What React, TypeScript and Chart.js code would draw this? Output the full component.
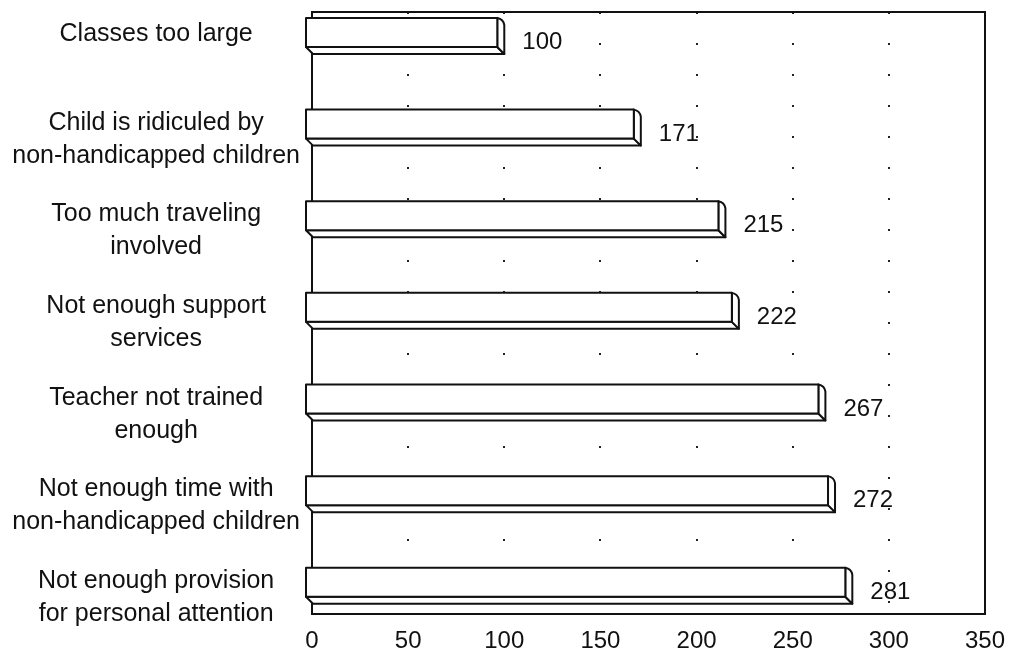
import React, { useEffect, useRef } from "react";
import { Chart, registerables } from "chart.js";

Chart.register(...registerables);

const categories: string[][] = [
  ["Classes too large"],
  ["Child is ridiculed by", "non-handicapped children"],
  ["Too much traveling", "involved"],
  ["Not enough support", "services"],
  ["Teacher not trained", "enough"],
  ["Not enough time with", "non-handicapped children"],
  ["Not enough provision", "for personal attention"],
];
const values: number[] = [100, 171, 215, 222, 267, 272, 281];
const xTicks: number[] = [0, 50, 100, 150, 200, 250, 300, 350];

const FONT = "'Liberation Sans', Arial, Helvetica, sans-serif";
const INK = "#111";
// small visual nudge of the category text relative to the bar (in category units)
const ONE_LINE_NUDGE = -0.06;
const TWO_LINE_NUDGE = 0.09;

const bar3d = {
  id: "bar3d",
  beforeDatasetsDraw(chart: any) {
    const { ctx, chartArea: a } = chart;
    ctx.save();
    ctx.strokeStyle = INK;
    ctx.lineWidth = 2;
    ctx.strokeRect(a.left, a.top, a.right - a.left, a.bottom - a.top);
    ctx.restore();
  },
  afterDatasetsDraw(chart: any) {
    const { ctx } = chart;
    const meta = chart.getDatasetMeta(0);
    const d = 7;
    ctx.save();
    ctx.lineJoin = "round";
    meta.data.forEach((el: any, i: number) => {
      const { x, y, base, height } = el.getProps(["x", "y", "base", "height"], true);
      const left = base;
      const right = x;
      const top = y - height / 2;
      const bottom = y + height / 2;
      ctx.fillStyle = "#fff";
      ctx.strokeStyle = INK;
      ctx.lineWidth = 2;
      // bottom face
      ctx.beginPath();
      ctx.moveTo(left - d, bottom - d);
      ctx.lineTo(left, bottom);
      ctx.lineTo(right, bottom);
      ctx.lineTo(right - d, bottom - d);
      ctx.closePath();
      ctx.fill();
      ctx.stroke();
      // right face
      ctx.beginPath();
      ctx.moveTo(right - d, top - d);
      ctx.quadraticCurveTo(right - 1, top - d + 1, right, top);
      ctx.lineTo(right, bottom);
      ctx.lineTo(right - d, bottom - d);
      ctx.closePath();
      ctx.fill();
      ctx.stroke();
      // front face
      ctx.beginPath();
      ctx.rect(left - d, top - d, right - left, bottom - top);
      ctx.fill();
      ctx.stroke();
      // value label
      ctx.fillStyle = INK;
      ctx.font = `24px ${FONT}`;
      ctx.textAlign = "left";
      ctx.textBaseline = "middle";
      ctx.fillText(String(values[i]), right + 18, y + 3);
    });
    ctx.restore();
  },
};

const zeroPad = (s: any) => {
  s.paddingTop = 0;
  s.paddingBottom = 0;
  s.paddingLeft = 0;
  s.paddingRight = 0;
};

export default function App() {
  const ref = useRef<HTMLCanvasElement | null>(null);
  useEffect(() => {
    if (!ref.current) return;
    Chart.defaults.font.family = FONT;
    const chart = new Chart(ref.current, {
      type: "bar",
      data: {
        datasets: [
          {
            data: values.map((v, i) => ({ x: v, y: i })),
            backgroundColor: "rgba(0,0,0,0)",
            borderWidth: 0,
            barThickness: 29,
          },
        ],
      },
      options: {
        indexAxis: "y",
        animation: false,
        responsive: true,
        maintainAspectRatio: false,
        layout: { padding: { top: 12, right: 25, left: 0, bottom: 0 } },
        plugins: { legend: { display: false }, tooltip: { enabled: false } },
        scales: {
          x: {
            type: "linear",
            min: 0,
            max: 350,
            offset: false,
            afterBuildTicks: (s: any) => {
              s.ticks = xTicks.map((v) => ({ value: v }));
            },
            afterFit: (s: any) => {
              s.height = 43;
              zeroPad(s);
            },
            grid: {
              color: (c: any) =>
                c.tick && (c.tick.value === 0 || c.tick.value === 350) ? "rgba(0,0,0,0)" : "#222",
              lineWidth: 2,
              drawTicks: false,
              offset: false,
            },
            border: { display: false, dash: [2, 29], dashOffset: 0 },
            ticks: {
              color: INK,
              font: { size: 24, family: FONT },
              padding: 13,
              maxRotation: 0,
            },
          },
          y: {
            type: "linear",
            reverse: true,
            min: -0.3,
            max: 6.27,
            offset: false,
            afterBuildTicks: (s: any) => {
              s.ticks = categories.map((c, i) => ({
                value: i + (c.length > 1 ? TWO_LINE_NUDGE : ONE_LINE_NUDGE),
              }));
            },
            afterFit: (s: any) => {
              s.width = 312;
              zeroPad(s);
            },
            grid: { display: false, drawTicks: false, offset: false },
            border: { display: false },
            ticks: {
              color: INK,
              crossAlign: "center",
              padding: 12,
              font: { size: 25, family: FONT, lineHeight: 1.32 },
              callback: (v: any) => categories[Math.round(Number(v))] ?? "",
            },
          },
        },
      },
      plugins: [bar3d],
    } as any);
    return () => chart.destroy();
  }, []);
  return (
    <div style={{ position: "fixed", left: 0, top: 0, width: 1010, height: 657, background: "#fff" }}>
      <canvas ref={ref} />
    </div>
  );
}
